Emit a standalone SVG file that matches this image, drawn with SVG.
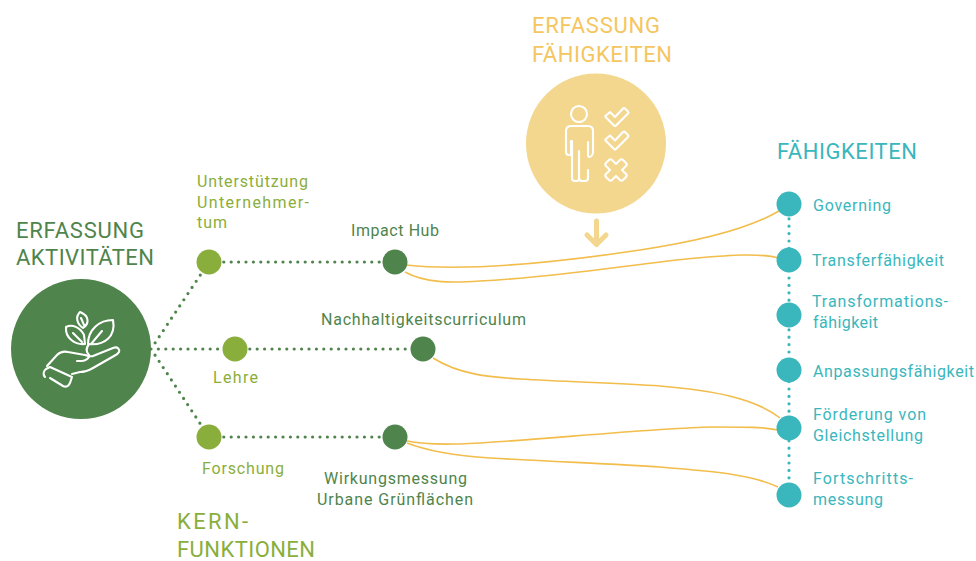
<svg xmlns="http://www.w3.org/2000/svg" width="976" height="561" viewBox="0 0 976 561">
<style>
text{font-family:"Roboto","Liberation Sans",sans-serif;font-size:16px;font-weight:400}
.h{font-size:22px}
.lg{fill:#8aae3c}.dg{fill:#4f844c}.te{fill:#3ab6bd}.ye{fill:#f4c65f}
.dot{fill:none;stroke-width:3.2;stroke-linecap:round;stroke-dasharray:0 7.4}
.gd{stroke:#4f844c}.td{stroke:#3ab6bd}
.cur{fill:none;stroke:#f2bd4b;stroke-width:1.6}
.ic{fill:none;stroke:#fff;stroke-width:2.1;stroke-linecap:round;stroke-linejoin:round}
</style>
<rect width="976" height="561" fill="#fff"/>
<g id="connectors">
<path class="dot gd" d="M151 349L209 262M151 349H235M151 349L209 437M209 262H395M235 349H423M209 437H395"/>
<path class="dot td" d="M789 204V495"/>
<path class="cur" d="M406 265C470 272 560 262 640 250C700 241 750 228 779 211"/>
<path class="cur" d="M405 272C425 283 450 283 480 281C560 277 640 263 697 258C730 255 760 253 779 258"/>
<path class="cur" d="M433 358C460 375 490 377 520 379C570 382 620 383 660 386C710 390 755 398 780 418"/>
<path class="cur" d="M407 441C425 445 445 444 460 444C520 442 650 428 713 427C745 427 765 427 777 430"/>
<path class="cur" d="M407 443C430 452 460 456 490 458C560 462 620 464 660 467C710 471 750 474 778 487"/>
</g>
<g id="erfassung-aktivitaeten">
<text class="h dg" x="16" y="238" textLength="128">ERFASSUNG</text>
<text class="h dg" x="16" y="265" textLength="138">AKTIVITÄTEN</text>
<circle cx="81" cy="349" r="70" fill="#4f844c"/>
<g class="ic">
<path d="M80 312C75 317 77 324 83 328C89 324 90 316 80 312z M81 318L84 325"/>
<path d="M66 327C72 324 80 327 84 335L85 344C75 345 65 338 66 327z M73 333L82 342"/>
<path d="M113 320C99 320 88 330 88 344C105 346 116 336 113 320z M91 344L102 331"/>
<path d="M89 344C86 348 86 352 89 355C90 358 85 361 82 361L77 361"/>
<path d="M47 366L57 355C60 352 64 351 68 352L85 355C89 356 91 357 93 356L113 348C118 346 120 350 119 352C118 354 116 355 114 356L93 368C88 371 84 372 80 372L72 374"/>
<path d="M50 367L46 369C43 371 43 375 45 377M50 367L72 377L70 383C69 385 67 388 63 386L50 378"/>
</g>
</g>
<g id="erfassung-faehigkeiten">
<text class="h ye" x="532" y="33" textLength="128">ERFASSUNG</text>
<text class="h ye" x="532" y="62" textLength="140">FÄHIGKEITEN</text>
<circle cx="596" cy="143.500" r="70" fill="#f4d78f"/>
<g class="ic">
<circle cx="579" cy="114" r="8"/>
<path d="M571 126h17c3 0 5 2 5 5v21c0 3-2 5-4 5l-1-1v-14M566 131c0-3 2-5 5-5M566 131v21c0 2 1 3 3 3h2v-14M572 141v37c0 2 1 3 3 3h2c1 0 2-1 2-3v-27M579 151v27c0 2 1 3 3 3h3c2 0 3-1 3-3v-8"/>
<path d="M606 115.500l4-3.500 5 5 8-8.500c1-1 1-1 2 0l3 3c1 1 0 2 0 2l-12 12c-1 1-1 1-2 0l-8-8c-1-1-1-2 0-2z"/>
<path d="M606 139l4-3.500 5 5 8-8.500c1-1 1-1 2 0l3 3c1 1 0 2 0 2l-12 12c-1 1-1 1-2 0l-8-8c-1-1-1-2 0-2z"/>
<path d="M606 163l3-3c1-1 2-1 3 0l4 4 4-4c1-1 2-1 3 0l3 3c1 1 1 2 0 3l-4 4 4 4c1 1 1 2 0 3l-3 3c-1 1-2 1-3 0l-4-4-4 4c-1 1-2 1-3 0l-3-3c-1-1-1-2 0-3l4-4-4-4c-1-1-1-2 0-3z"/>
</g>
<path d="M596.500 221V243M587 235l9.500 9.500 9.500-9.500" fill="none" stroke="#f4d78f" stroke-width="5" stroke-linecap="round" stroke-linejoin="round"/>
</g>
<g id="kernfunktionen">
<text class="h lg" x="177" y="529" textLength="71">KERN-</text>
<text class="h lg" x="177" y="557" textLength="138">FUNKTIONEN</text>
</g>
<g id="unterstuetzung"><circle cx="209" cy="262" r="12.500" fill="#8aae3c"/>
<text class="lg" x="197" y="187" textLength="111">Unterstützung</text><text class="lg" x="197" y="208" textLength="112">Unternehmer-</text><text class="lg" x="197" y="228" textLength="30">tum</text></g>
<g id="lehre"><circle cx="235" cy="349" r="12.500" fill="#8aae3c"/><text class="lg" x="213" y="383" textLength="45">Lehre</text></g>
<g id="forschung"><circle cx="209" cy="437" r="12.500" fill="#8aae3c"/><text class="lg" x="202" y="474" textLength="82">Forschung</text></g>
<g id="impact-hub"><circle cx="395" cy="262" r="12.500" fill="#4f844c"/><text class="dg" x="351" y="236" textLength="88">Impact Hub</text></g>
<g id="nachhaltigkeit"><circle cx="423" cy="349" r="12.500" fill="#4f844c"/><text class="dg" x="321" y="325" textLength="205">Nachhaltigkeitscurriculum</text></g>
<g id="wirkungsmessung"><circle cx="395" cy="437" r="12.500" fill="#4f844c"/><text class="dg" x="324" y="484" textLength="143">Wirkungsmessung</text><text class="dg" x="317" y="505" textLength="156">Urbane Grünflächen</text></g>
<g id="faehigkeiten"><text class="h te" x="777" y="159" textLength="140">FÄHIGKEITEN</text></g>
<g id="governing"><circle cx="789" cy="204" r="12.500" fill="#3ab6bd"/><text class="te" x="813" y="211" textLength="78">Governing</text></g>
<g id="transfer"><circle cx="789" cy="260" r="12.500" fill="#3ab6bd"/><text class="te" x="812" y="266" textLength="132">Transferfähigkeit</text></g>
<g id="transformation"><circle cx="789" cy="315" r="12.500" fill="#3ab6bd"/><text class="te" x="812" y="307" textLength="136">Transformations-</text><text class="te" x="813" y="328" textLength="65">fähigkeit</text></g>
<g id="anpassung"><circle cx="789" cy="370" r="12.500" fill="#3ab6bd"/><text class="te" x="813" y="377" textLength="161">Anpassungsfähigkeit</text></g>
<g id="gleichstellung"><circle cx="789" cy="428" r="12.500" fill="#3ab6bd"/><text class="te" x="813" y="420" textLength="113">Förderung von</text><text class="te" x="813" y="441" textLength="110">Gleichstellung</text></g>
<g id="fortschritt"><circle cx="789" cy="495" r="12.500" fill="#3ab6bd"/><text class="te" x="813" y="484" textLength="100">Fortschritts-</text><text class="te" x="813" y="505" textLength="70">messung</text></g>
</svg>
